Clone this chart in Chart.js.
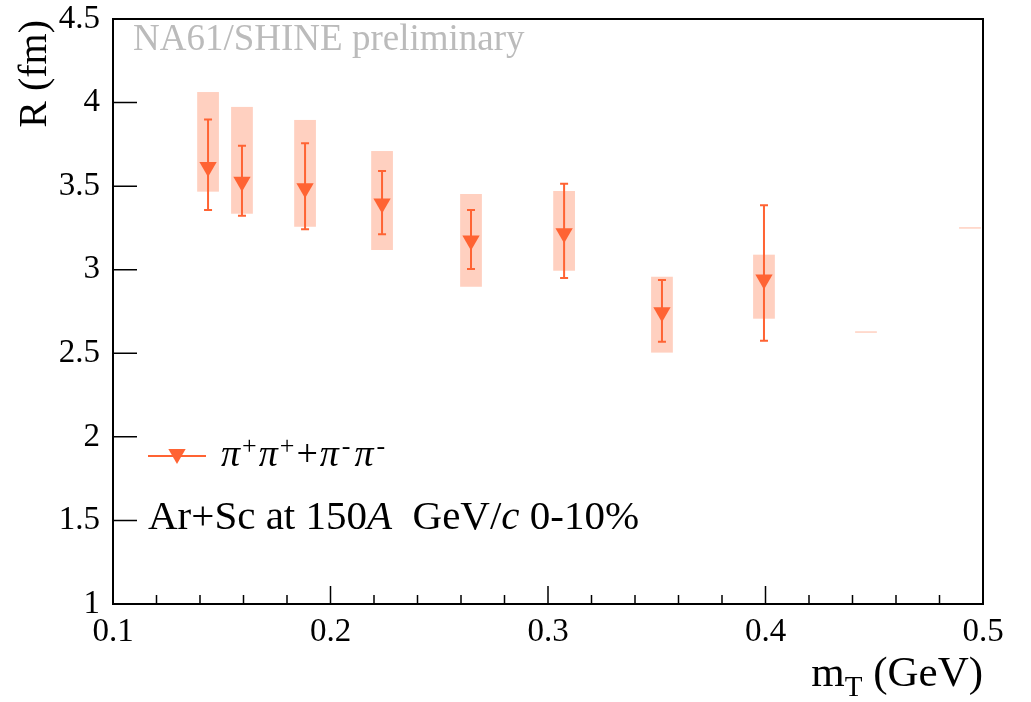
<!DOCTYPE html>
<html>
<head>
<meta charset="utf-8">
<script src="https://cdn.jsdelivr.net/npm/chart.js@4.4.0/dist/chart.umd.min.js"></script>
<style>
  body { margin: 0; background: #fff; }
  canvas { display: block; }
</style>
</head>
<body>
<canvas id="hbtChart" width="1031" height="702"></canvas>
<script>
// Ar+Sc 150A GeV/c, 0-10%, HBT radius vs mT
const mT     = [0.1437, 0.1593, 0.1883, 0.2237, 0.2646, 0.3074, 0.3524, 0.3993];
const radius = [3.615, 3.527, 3.487, 3.396, 3.175, 3.218, 2.746, 2.941];
const statHi = [3.898, 3.742, 3.756, 3.591, 3.357, 3.515, 2.938, 3.385];
const statLo = [3.357, 3.323, 3.242, 3.212, 3.004, 2.950, 2.569, 2.575];
const sysHi  = [4.063, 3.974, 3.896, 3.710, 3.453, 3.471, 2.958, 3.090];
const sysLo  = [3.467, 3.335, 3.257, 3.118, 2.898, 2.994, 2.504, 2.707];
const boxHalfWidth = 0.005;
// flat sys boxes left over on the right side of the plot
const strayX = [0.4462, 0.4940];
const strayY = [2.627, 3.250];

const xTicks = [0.1, 0.2, 0.3, 0.4, 0.5];
const yTicks = [1, 1.5, 2, 2.5, 3, 3.5, 4, 4.5];

const serif = '"Liberation Serif", "Times New Roman", serif';
const markerColor = '#ff6333';
const sysColor = '#ffd0c0';

function font(size, italic) {
    return (italic ? 'italic ' : '') + size + 'px ' + serif;
}

// draws a list of text pieces one after the other, returns the end x
function drawRuns(ctx, runs, x, y, measureOnly) {
    let cx = x;
    runs.forEach(r => {
        ctx.font = font(r.size, r.italic);
        if (!measureOnly) ctx.fillText(r.t, cx, y + (r.dy || 0));
        cx += ctx.measureText(r.t).width + (r.gap || 0);
    });
    return cx;
}

function downTriangle(ctx, x, y, r) {
    const s = r * Math.sin(Math.PI / 3);
    ctx.beginPath();
    ctx.moveTo(x, y + r);
    ctx.lineTo(x - s, y - r / 2);
    ctx.lineTo(x + s, y - r / 2);
    ctx.closePath();
    ctx.fill();
}

const decorations = {
    id: 'decorations',
    beforeDatasetsDraw(chart) {
        const { ctx, scales: { x, y } } = chart;
        ctx.save();
        // systematic boxes
        ctx.fillStyle = sysColor;
        mT.forEach((m, i) => {
            const l = x.getPixelForValue(m - boxHalfWidth);
            const r = x.getPixelForValue(m + boxHalfWidth);
            const t = y.getPixelForValue(sysHi[i]);
            const b = y.getPixelForValue(sysLo[i]);
            ctx.fillRect(l, t, r - l, b - t);
        });
        ctx.strokeStyle = sysColor;
        ctx.lineWidth = 1.5;
        strayX.forEach((m, i) => {
            const py = y.getPixelForValue(strayY[i]);
            ctx.beginPath();
            ctx.moveTo(x.getPixelForValue(m - boxHalfWidth), py);
            ctx.lineTo(x.getPixelForValue(m + boxHalfWidth), py);
            ctx.stroke();
        });
        // statistical errors
        ctx.strokeStyle = markerColor;
        ctx.lineWidth = 2;
        mT.forEach((m, i) => {
            const px = x.getPixelForValue(m);
            const t = y.getPixelForValue(statHi[i]);
            const b = y.getPixelForValue(statLo[i]);
            ctx.beginPath();
            ctx.moveTo(px, t); ctx.lineTo(px, b);
            ctx.moveTo(px - 4, t); ctx.lineTo(px + 4, t);
            ctx.moveTo(px - 4, b); ctx.lineTo(px + 4, b);
            ctx.stroke();
        });
        ctx.restore();
    },
    afterDraw(chart) {
        const { ctx, chartArea: a, scales: { x, y } } = chart;
        ctx.save();

        // frame
        ctx.strokeStyle = '#000';
        ctx.lineWidth = 2;
        ctx.strokeRect(a.left, a.top, a.right - a.left, a.bottom - a.top);

        // inward ticks
        ctx.lineWidth = 1.5;
        ctx.beginPath();
        yTicks.forEach(v => {
            const py = y.getPixelForValue(v);
            ctx.moveTo(a.left, py); ctx.lineTo(a.left + 24, py);
        });
        for (let k = 0; k <= 20; k++) {
            const px = x.getPixelForValue(0.1 + k * 0.02);
            const len = k % 5 === 0 ? 18 : 9;
            ctx.moveTo(px, a.bottom); ctx.lineTo(px, a.bottom - len);
        }
        ctx.stroke();

        ctx.textBaseline = 'alphabetic';
        ctx.textAlign = 'left';

        // axis titles
        ctx.fillStyle = '#000';
        const xTitle = [
            { t: 'm', size: 43 },
            { t: 'T', size: 29, dy: 10 },
            { t: ' (GeV)', size: 43 }
        ];
        const xw = drawRuns(ctx, xTitle, 0, 0, true);
        drawRuns(ctx, xTitle, a.right - xw, 686);

        ctx.save();
        ctx.translate(46, a.top + 1);
        ctx.rotate(-Math.PI / 2);
        ctx.font = font(40);
        ctx.textAlign = 'right';
        ctx.fillText('R (fm)', 0, 0);
        ctx.restore();

        // watermark
        ctx.fillStyle = '#bbbbbb';
        ctx.font = font(37);
        ctx.fillText('NA61/SHINE preliminary', 133, 50);

        // system label
        ctx.fillStyle = '#000';
        drawRuns(ctx, [
            { t: 'Ar+Sc at 150', size: 41 },
            { t: 'A', size: 41, italic: true },
            { t: '  GeV/', size: 41 },
            { t: 'c', size: 41, italic: true },
            { t: ' 0-10%', size: 41 }
        ], 148, 529);

        // legend
        ctx.strokeStyle = markerColor;
        ctx.lineWidth = 2;
        ctx.beginPath();
        ctx.moveTo(148, 456); ctx.lineTo(206, 456);
        ctx.stroke();
        ctx.fillStyle = markerColor;
        downTriangle(ctx, 177, 454, 10);
        ctx.fillStyle = '#000';
        drawRuns(ctx, [
            { t: 'π', size: 38, italic: true, gap: 2 },
            { t: '+', size: 26, dy: -12, gap: 2 },
            { t: 'π', size: 38, italic: true, gap: 2 },
            { t: '+', size: 26, dy: -12, gap: 2 },
            { t: '+', size: 38, gap: 2 },
            { t: 'π', size: 38, italic: true, gap: 3 },
            { t: '-', size: 26, dy: -12, gap: 4 },
            { t: 'π', size: 38, italic: true, gap: 3 },
            { t: '-', size: 26, dy: -12 }
        ], 221, 466);

        ctx.restore();
    }
};

const ctx = document.getElementById('hbtChart').getContext('2d');
const hbtChart = new Chart(ctx, {
    type: 'scatter',
    data: {
        datasets: [{
            label: 'π+π+ + π-π-',
            data: mT.map((m, i) => ({ x: m, y: radius[i] })),
            pointStyle: 'triangle',
            rotation: 180,
            pointRadius: 10,
            pointHoverRadius: 10,
            backgroundColor: markerColor,
            borderWidth: 0
        }]
    },
    options: {
        responsive: false,
        animation: false,
        layout: { padding: { top: 19, right: 48, left: 0, bottom: 0 } },
        plugins: {
            legend: { display: false },
            tooltip: { enabled: false }
        },
        scales: {
            x: {
                type: 'linear',
                min: 0.1,
                max: 0.5,
                afterBuildTicks: s => { s.ticks = xTicks.map(v => ({ value: v })); },
                afterFit: s => { s.height = 98; s.paddingLeft = 0; s.paddingRight = 0; },
                ticks: {
                    color: '#000',
                    font: { family: serif, size: 33 },
                    padding: 9,
                    maxRotation: 0,
                    autoSkip: false,
                    callback: v => String(Number(v.toFixed(2)))
                },
                grid: { drawOnChartArea: false, drawTicks: false },
                border: { display: false }
            },
            y: {
                min: 1,
                max: 4.5,
                afterBuildTicks: s => { s.ticks = yTicks.map(v => ({ value: v })); },
                afterFit: s => { s.width = 113; s.paddingTop = 0; s.paddingBottom = 0; },
                ticks: {
                    color: '#000',
                    font: { family: serif, size: 33 },
                    padding: 13,
                    autoSkip: false,
                    callback: v => String(Number(v.toFixed(2)))
                },
                grid: { drawOnChartArea: false, drawTicks: false },
                border: { display: false }
            }
        }
    },
    plugins: [decorations]
});
</script>
</body>
</html>
